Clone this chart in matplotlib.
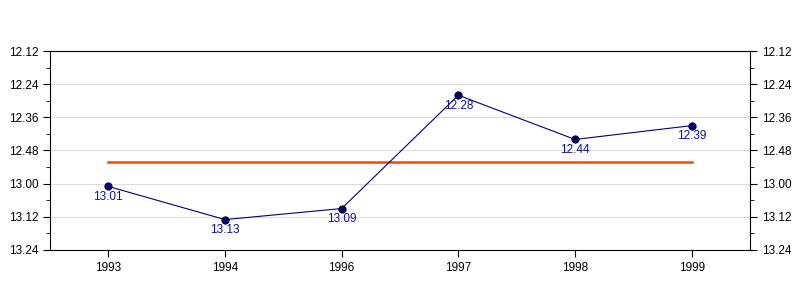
import numpy as np
import matplotlib.pyplot as plt
from matplotlib.ticker import MultipleLocator, FuncFormatter

plt.rcParams['font.family'] = ['Liberation Sans', 'DejaVu Sans']

# results as minutes.seconds
years = ['1993', '1994', '1996', '1997', '1998', '1999']
times = ['13.01', '13.13', '13.09', '12.28', '12.44', '12.39']

# convert to seconds
def to_sec(s):
    m, sec = s.split('.')
    return int(m) * 60 + int(sec)

secs = np.array([to_sec(t) for t in times])
avg = secs.mean()

def fmt(v, pos):
    v = int(round(v))
    return '%d.%02d' % (v // 60, v % 60)

fig = plt.figure(figsize=(8, 3), dpi=100)
ax = fig.add_axes([0.0625, 0.1667, 0.875, 0.6633])
x = np.arange(len(years))

ax.plot(x, secs, color='#000080', lw=0.8, zorder=3)
ax.scatter(x, secs, s=28, color='#000080', edgecolor='black', linewidth=0.6, zorder=4)
ax.plot([x[0], x[-1]], [avg, avg], color='#FF4500', lw=1.8, zorder=2)

for xi, yi, t in zip(x, secs, times):
    ax.annotate(t, (xi, yi), xytext=(0, -3.5), textcoords='offset points',
                ha='center', va='top', color='#10109a', fontsize=8.5, zorder=5)

ax.set_xlim(-0.5, len(years) - 0.5)
ax.set_ylim(804, 732)
ax.yaxis.set_major_locator(MultipleLocator(12))
ax.yaxis.set_minor_locator(MultipleLocator(6))
ax.yaxis.set_major_formatter(FuncFormatter(fmt))
ax.set_xticks(x)
ax.set_xticklabels(years)

ax.tick_params(axis='y', which='both', left=True, right=True, labelleft=True, labelright=True,
               labelsize=8.5, direction='out')
ax.tick_params(axis='y', which='major', length=5)
ax.tick_params(axis='y', which='minor', length=3)
ax.tick_params(axis='x', labelsize=8.5, length=5, direction='out')
ax.grid(axis='y', which='major', color='#dddddd', lw=0.8)
ax.set_axisbelow(True)

for sp in ax.spines.values():
    sp.set_linewidth(0.8)

plt.savefig('out.png', dpi=100)
